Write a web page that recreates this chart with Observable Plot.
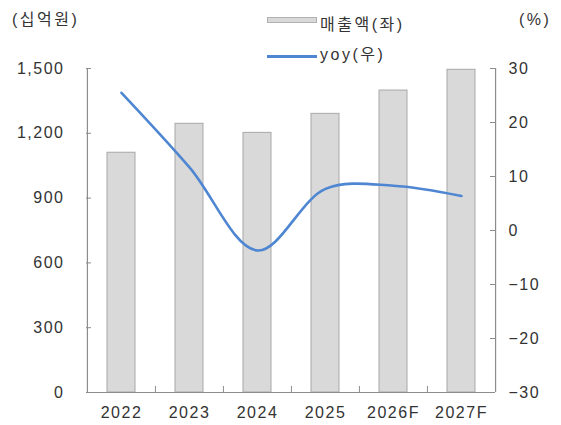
<!DOCTYPE html>
<html><head><meta charset="utf-8">
<script src="https://cdn.jsdelivr.net/npm/d3@7"></script>
<script src="https://cdn.jsdelivr.net/npm/@observablehq/plot@0.6"></script>
<style>
body{margin:0;background:#fff}
#wrap{position:relative;width:561px;height:425px;font-family:'Liberation Sans','Noto Sans CJK KR',sans-serif;color:#333}
.t{position:absolute;font-size:16px;letter-spacing:2.5px;white-space:nowrap;line-height:1}
.sw{position:absolute}
</style></head><body><div id="wrap"></div>
<script>
const years = ["2022","2023","2024","2025","2026F","2027F"];
const sales = [1110,1244,1202,1290,1398,1494];
const yoy = [25.5,11.7,-3.7,7.7,8.3,6.4];
const leftTicks = [0,300,600,900,1200,1500];
const rightTicks = [-30,-20,-10,0,10,20,30];
const unitLeft = "(십억원)";
const unitRight = "(%)";
const legendBar = "매출액(좌)";
const legendLine = "yoy(우)";

const toLeft = r => (r + 30) / 60 * 1500;
const data = years.map((y,i) => ({year:y, sales:sales[i], yoy:yoy[i]}));
const W = 561, H = 425, mL = 86, mR = 66, mT = 68, mB = 33;
const step = (W - mL - mR) / years.length;
const axisColor = "#8c8c8c";
const fmtR = d => d < 0 ? "\u2212" + Math.abs(d) : String(d);

const chart = Plot.plot({
  width: W, height: H,
  marginLeft: mL, marginRight: mR, marginTop: mT, marginBottom: mB,
  style: {fontFamily: "'Liberation Sans','Noto Sans CJK KR',sans-serif", fontSize: "16px", color: "#333", letterSpacing: "1.5px"},
  x: {domain: years, padding: 0, label: null},
  y: {domain: [0,1500], label: null},
  marks: [
    Plot.barY(data, {x:"year", y:"sales", fill:"#d9d9d9", stroke:"#a8a8a8", strokeWidth:1, insetLeft:20, insetRight:20}),
    Plot.line(data, {x:"year", y: d => toLeft(d.yoy), stroke:"#4f86d2", strokeWidth:2.6, curve:"catmull-rom"}),
    Plot.ruleY([0], {stroke: axisColor, strokeWidth: 1.2}),
    Plot.ruleX([years[0]], {dx: -step/2, stroke: axisColor, strokeWidth: 1.2}),
    Plot.ruleX([years[years.length-1]], {dx: step/2, stroke: axisColor, strokeWidth: 1.2}),
    Plot.ruleY(leftTicks, {y: d=>d, stroke: axisColor, insetRight: W-mL-mR-5}),
    Plot.ruleY(rightTicks.map(toLeft), {y: d=>d, stroke: axisColor, insetLeft: W-mL-mR-5}),
    Plot.ruleX(years.slice(1), {x: d=>d, dx: -step/2, stroke: axisColor, insetTop: H-mT-mB-6}),
    Plot.axisY({anchor:"left", ticks: leftTicks, tickSize:0, tickPadding:22, tickFormat: d3.format(","), fill:"#333", label: null}),
    Plot.axisY({anchor:"right", ticks: rightTicks.map(toLeft), tickSize:0, tickPadding:13, tickFormat: d => fmtR(Math.round(d/25 - 30)), fill:"#333", label: null}),
    Plot.axisX({anchor:"bottom", tickSize:0, tickPadding:14, fill:"#333", label: null})
  ]
});
const wrap = document.getElementById("wrap");
wrap.appendChild(chart);
function addText(txt, left, top){ const d=document.createElement("div"); d.className="t"; d.textContent=txt; d.style.left=left+"px"; d.style.top=top+"px"; wrap.appendChild(d); }
function addSw(left, top, w, h, css){ const d=document.createElement("div"); d.className="sw"; d.style.left=left+"px"; d.style.top=top+"px"; d.style.width=w+"px"; d.style.height=h+"px"; Object.assign(d.style, css); wrap.appendChild(d); }
addText(unitLeft, 12, 12);
addText(unitRight, 519, 12);
addSw(267, 17, 50, 6, {background:"#d9d9d9", border:"1px solid #b0b0b0", boxSizing:"border-box"});
addText(legendBar, 320, 17);
addSw(267, 55, 50, 2.6, {background:"#4f86d2"});
addText(legendLine, 320, 47);
</script></body></html>
